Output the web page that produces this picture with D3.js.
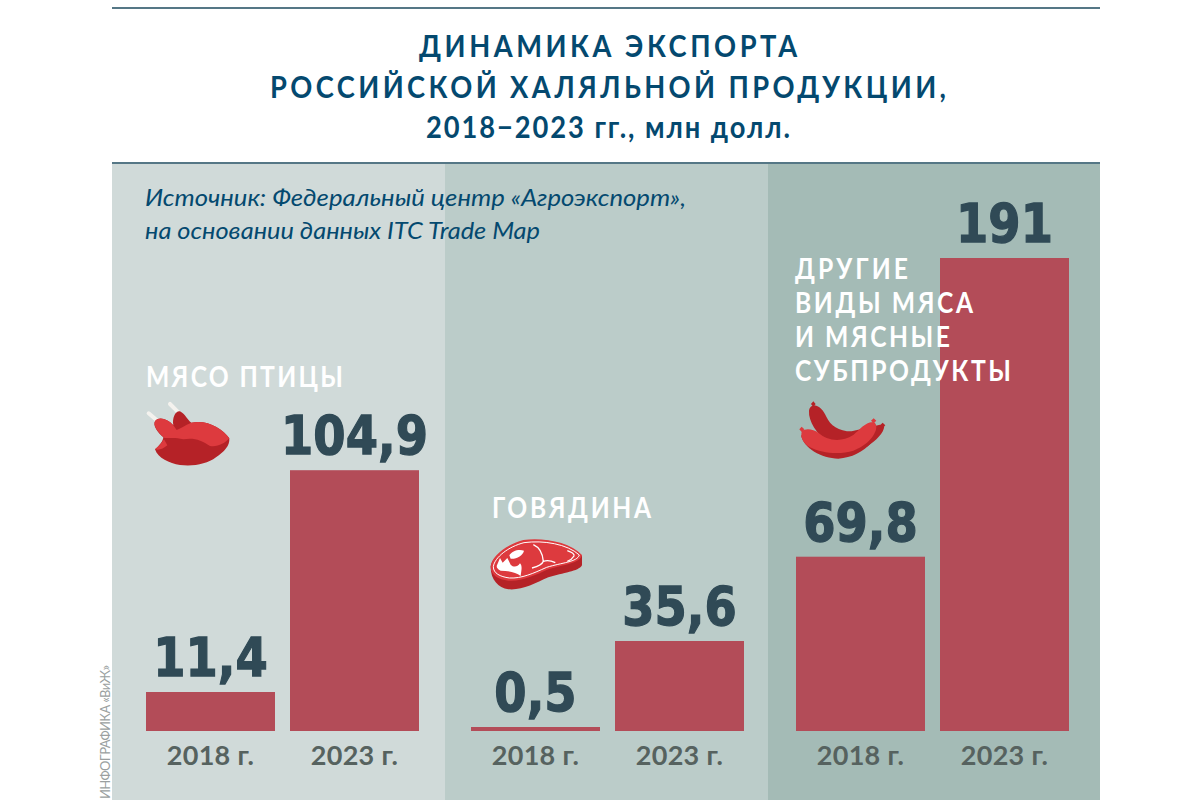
<!DOCTYPE html>
<html>
<head>
<meta charset="utf-8">
<script src="https://cdn.jsdelivr.net/npm/d3@7"></script>
<style>
  html, body { margin: 0; padding: 0; background: #fff; }
  svg { display: block; }
  text { font-family: "Lato", "Noto Sans", sans-serif; }
</style>
</head>
<body>
<div id="chart"></div>
<script>
var categories = ['poultry', 'beef', 'other']
var years = ['2018 г.', '2023 г.']
var values2018 = [11.4, 0.5, 69.8]
var values2023 = [104.9, 35.6, 191]
var valueLabels2018 = ['11,4', '0,5', '69,8']
var valueLabels2023 = ['104,9', '35,6', '191']
var categoryLines = [['МЯСО ПТИЦЫ'], ['ГОВЯДИНА'], ['ДРУГИЕ', 'ВИДЫ МЯСА', 'И МЯСНЫЕ', 'СУБПРОДУКТЫ']]
var titleLines = ['ДИНАМИКА ЭКСПОРТА', 'РОССИЙСКОЙ ХАЛЯЛЬНОЙ ПРОДУКЦИИ,', '2018−2023 гг., млн долл.']
var sourceLines = ['Источник: Федеральный центр «Агроэкспорт»,', 'на основании данных ITC Trade Map']
var credit = 'ИНФОГРАФИКА «ВиЖ»'
var panelColors = ['#d0dad9', '#bbccc9', '#a4bbb6']

var width = 1200
var height = 800
var baseline = 731
// caps are squeezed a little so the letter spacing of the original shows
var squeeze = 0.88

var svg = d3.select('#chart').append('svg')
  .attr('width', width)
  .attr('height', height)

// panels
var panelEdges = [112, 445, 768, 1100]
svg.append('g').selectAll('rect')
  .data(categories)
  .enter().append('rect')
    .attr('x', (d, i) => panelEdges[i])
    .attr('y', 164)
    .attr('width', (d, i) => panelEdges[i + 1] - panelEdges[i])
    .attr('height', height - 164)
    .attr('fill', (d, i) => panelColors[i])

svg.append('line').attr('x1', 112).attr('x2', 1100).attr('y1', 8).attr('y2', 8)
  .attr('stroke', '#1c4a5e').attr('stroke-width', 1.5)
svg.append('line').attr('x1', 112).attr('x2', 1100).attr('y1', 163).attr('y2', 163)
  .attr('stroke', '#1c4a5e').attr('stroke-width', 1.5)

// title
var titleY = [57, 98, 138]
svg.append('g').selectAll('text')
  .data(titleLines)
  .enter().append('text')
    .attr('transform', (d, i) => 'translate(608,' + titleY[i] + ') scale(' + squeeze + ',1)')
    .attr('text-anchor', 'middle')
    .attr('fill', '#04496f')
    .attr('font-weight', 700)
    .attr('font-size', 31)
    .attr('textLength', (d, i) => [378, 676, 364][i] / squeeze)
    .attr('lengthAdjust', 'spacing')
    .text(d => d)

svg.append('g').selectAll('text')
  .data(sourceLines)
  .enter().append('text')
    .attr('x', 145)
    .attr('y', (d, i) => 206 + i * 33)
    .attr('fill', '#04496f')
    .attr('font-style', 'italic')
    .attr('font-size', 22.5)
    .attr('textLength', (d, i) => [541, 395][i])
    .attr('lengthAdjust', 'spacingAndGlyphs')
    .text(d => d)

// the bars of the reference are not strictly proportional at the low end
var y = d3.scaleLinear()
  .domain([0, 0.5, 11.4, 35.6, 191])
  .range([baseline, 727, 692, 641, 258])

var groupX = d3.scaleBand()
  .domain(categories)
  .range([146, 1069])
  .paddingInner(0.16)
var barX = d3.scaleBand()
  .domain(years)
  .range([0, groupX.bandwidth()])
  .paddingInner(15 / 144)

var groups = svg.append('g').selectAll('g')
  .data(categories)
  .enter().append('g')
    .attr('transform', d => 'translate(' + groupX(d) + ',0)')

groups.each(function(cat, c) {
  var g = d3.select(this)
  var rows = [
    {year: years[0], value: values2018[c], label: valueLabels2018[c]},
    {year: years[1], value: values2023[c], label: valueLabels2023[c]}
  ]
  g.selectAll('rect')
    .data(rows)
    .enter().append('rect')
      .attr('x', d => barX(d.year))
      .attr('y', d => y(d.value))
      .attr('width', barX.bandwidth())
      .attr('height', d => baseline - y(d.value))
      .attr('fill', '#b34c58')
  // value font squeezed sideways and thickened, the original is a narrow heavy face
  g.selectAll('text.value')
    .data(rows)
    .enter().append('text')
      .attr('class', 'value')
      .attr('transform', d => 'translate(' + (barX(d.year) + barX.bandwidth() / 2) + ',' + (y(d.value) - 16) + ') scale(0.86,1)')
      .attr('text-anchor', 'middle')
      .attr('fill', '#304a56')
      .attr('stroke', '#304a56')
      .attr('stroke-width', 1.3)
      .attr('font-size', 54)
      .attr('font-weight', 700)
      .style('font-family', '"DejaVu Sans", sans-serif')
      .text(d => d.label)
  var axis = g.append('g')
    .attr('transform', 'translate(0,' + baseline + ')')
    .call(d3.axisBottom(barX).tickSize(0).tickPadding(15))
  axis.select('.domain').remove()
  axis.selectAll('text')
    .attr('fill', '#56625f')
    .attr('font-size', 27)
    .attr('font-weight', 700)
    .attr('letter-spacing', 0.3)
    .style('font-family', '"Lato", "Noto Sans", sans-serif')
})

// category names
var categoryY = [387, 518, 279]
var categoryTextX = [146, 492, 795]
var categoryLengths = [[197], [159], [113, 178, 155, 216]]
categories.forEach(function(cat, c) {
  svg.append('g').selectAll('text')
    .data(categoryLines[c])
    .enter().append('text')
      .attr('transform', (d, i) => 'translate(' + categoryTextX[c] + ',' + (categoryY[c] + i * 34) + ') scale(' + squeeze + ',1)')
      .attr('fill', '#fff')
      .attr('font-size', 28)
      .attr('font-weight', 700)
      .attr('textLength', (d, i) => categoryLengths[c][i] / squeeze)
      .attr('lengthAdjust', 'spacing')
      .text(d => d)
})

svg.append('text')
  .attr('transform', 'translate(110,799) rotate(-90)')
  .attr('fill', '#9a9f9f')
  .attr('font-size', 13)
  .attr('textLength', 134)
  .text(credit)

// icons, outlines traced at 3x
var red = '#dd3a3e'
var dark = '#b52227'
var bone = '#f4f2ee'

var chicken = svg.append('g').attr('transform', 'translate(130,350) scale(0.3333)')
chicken.append('path').attr('d', 'M56,190 L84,214 M120,162 L146,188').attr('fill', 'none').attr('stroke', bone).attr('stroke-width', 12).attr('stroke-linecap', 'round')
chicken.append('path').attr('fill', dark).attr('d', 'M75,298 C88,288 100,272 100,262 C84,248 66,226 76,212 C88,200 112,206 130,226 C126,204 136,182 150,184 C166,192 172,210 184,218 C230,208 278,235 298,265 C300,288 282,306 258,322 C232,342 190,350 150,345 C118,340 84,325 75,298 Z')
chicken.append('path').attr('fill', red).attr('d', 'M76,212 C88,200 112,206 130,226 L140,240 C150,236 165,226 184,218 C230,208 278,235 298,265 C285,280 262,292 240,288 C215,270 190,262 160,268 C140,262 125,264 104,264 C88,250 66,226 76,212 Z')
chicken.append('path').attr('fill', red).attr('d', 'M75,298 C85,290 95,280 102,268 L112,286 C100,296 88,302 75,298 Z')

var steak = svg.append('g').attr('transform', 'translate(480,530) scale(0.3333)')
steak.append('path').attr('fill', dark).attr('d', 'M32,110 C34,85 75,50 130,34 C190,22 270,40 306,78 L306,106 C295,125 250,128 205,142 C165,160 125,182 85,178 C55,172 32,150 32,110 Z')
steak.append('path').attr('fill', red).attr('d', 'M32,110 C34,80 75,45 130,30 C190,22 270,36 306,75 C302,100 250,104 205,118 C165,136 125,155 85,152 C55,148 32,135 32,110 Z')
steak.append('path').attr('fill', 'none').attr('stroke', '#fff').attr('stroke-width', 3).attr('d', 'M40,110 C44,82 85,50 132,38 C190,30 262,42 298,75 C292,96 245,98 200,112 C160,130 125,146 88,144 C60,140 40,130 40,110 Z')
steak.append('path').attr('fill', '#fff').attr('d', 'M88,76 C95,62 118,56 132,62 C130,76 108,88 92,86 Z M50,108 L60,84 L68,98 L82,84 L92,104 C100,112 112,112 120,100 C128,108 124,122 122,138 C108,126 84,122 62,122 C54,118 50,114 50,108 Z')
steak.append('path').attr('fill', 'none').attr('stroke', '#fff').attr('stroke-width', 4).attr('d', 'M160,44 C178,52 188,70 190,94 C186,106 172,110 156,114 M190,94 C200,90 214,92 226,98 M262,62 C274,66 284,72 282,78 C276,88 268,92 262,94')

var sausage = svg.append('g').attr('transform', 'translate(785,390) scale(0.3333)')
sausage.append('path').attr('fill', dark).attr('d', 'M72,62 C74,50 82,46 88,46 C104,48 116,62 124,80 C136,106 160,124 200,124 L285,104 L298,108 C296,130 275,150 245,170 L130,160 C95,130 70,95 72,62 Z M85,34 L92,42 L85,50 L78,42 Z M293,98 L301,106 L293,114 L285,106 Z')
sausage.append('path').attr('fill', dark).attr('d', 'M48,135 C55,175 110,205 160,206 C200,204 235,185 258,160 L205,160 L70,150 Z')
sausage.append('path').attr('fill', red).attr('d', 'M50,125 C62,112 85,118 100,128 C125,150 165,160 205,135 C225,118 240,98 262,96 C274,96 276,110 272,122 C262,150 235,170 205,182 C165,195 110,190 75,172 C55,160 46,142 50,125 Z M50,110 L58,118 L50,126 L43,118 Z M266,85 L274,92 L266,100 L258,92 Z')
</script>
</body>
</html>
